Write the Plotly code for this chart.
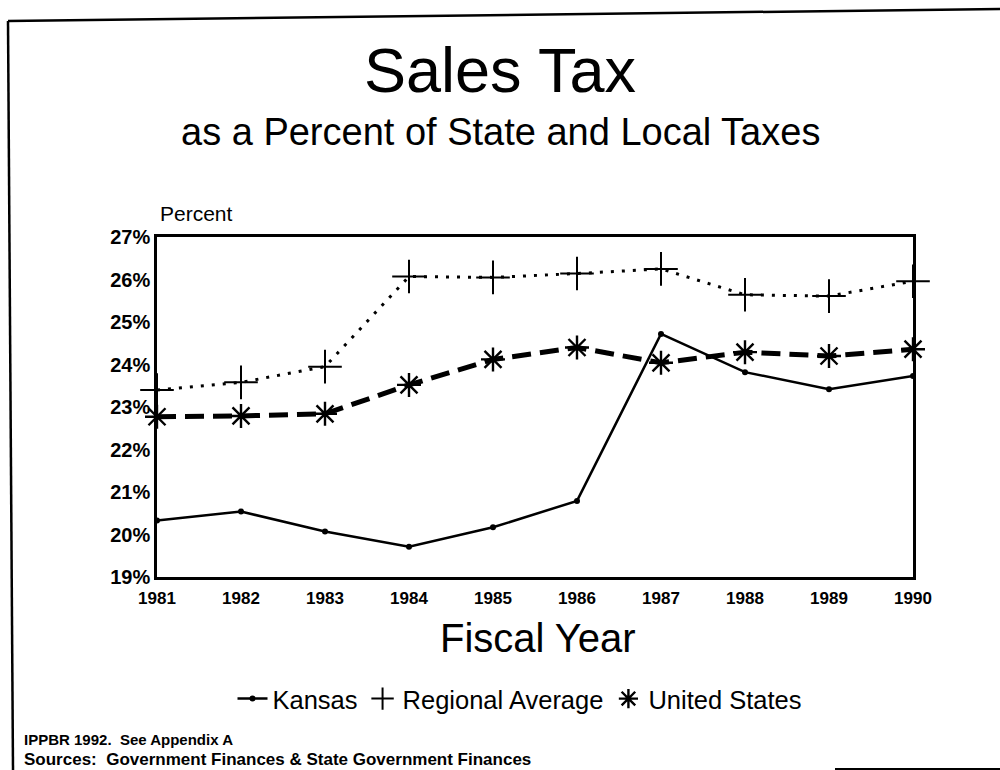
import plotly.graph_objects as go

years = [1981, 1982, 1983, 1984, 1985, 1986, 1987, 1988, 1989, 1990]
kansas = [20.33, 20.54, 20.07, 19.71, 20.17, 20.79, 24.72, 23.82, 23.42, 23.73]
regional = [23.40, 23.58, 23.95, 26.07, 26.05, 26.14, 26.25, 25.64, 25.61, 25.96]
united_states = [22.77, 22.79, 22.84, 23.52, 24.12, 24.40, 24.04, 24.29, 24.20, 24.36]

y_ticks = [19, 20, 21, 22, 23, 24, 25, 26, 27]
y_tick_labels = ["19%", "20%", "21%", "22%", "23%", "24%", "25%", "26%", "27%"]

FONT = "Liberation Sans, Arial, sans-serif"

REG_MARKER = dict(symbol="cross-thin-open", size=24, color="black",
                  line=dict(color="black", width=2))
US_MARKER = dict(symbol="asterisk-open", size=20, color="black",
                 line=dict(color="black", width=2.4))
KS_MARKER = dict(symbol="circle", size=6, color="black")

fig = go.Figure()

fig.add_trace(go.Scatter(
    x=years, y=regional, mode="lines+markers", showlegend=False, cliponaxis=False,
    line=dict(color="black", width=3, dash="3px,8px"),
    marker=REG_MARKER,
))
fig.add_trace(go.Scatter(
    x=years, y=united_states, mode="lines+markers", showlegend=False, cliponaxis=False,
    line=dict(color="black", width=5, dash="19px,9px"),
    marker=US_MARKER,
))
fig.add_trace(go.Scatter(
    x=years, y=kansas, mode="lines+markers", showlegend=False, cliponaxis=False,
    line=dict(color="black", width=2.5),
    marker=KS_MARKER,
))

# key entries: symbol only, as in the printed key
fig.add_trace(go.Scatter(
    x=[None], y=[None], mode="lines+markers", name="Kansas",
    line=dict(color="black", width=2.5), marker=KS_MARKER,
))
fig.add_trace(go.Scatter(
    x=[None], y=[None], mode="markers", name="Regional Average", marker=REG_MARKER,
))
fig.add_trace(go.Scatter(
    x=[None], y=[None], mode="markers", name="United States", marker=US_MARKER,
))

L, R, T, B = 157, 87, 237, 193
W, H = 1000, 770
plot_w = W - L - R
plot_h = H - T - B


def px_to_paper(px, py):
    return (px - L) / plot_w, (H - B - py) / plot_h


fig.update_layout(
    width=W, height=H,
    margin=dict(l=L, r=R, t=T, b=B),
    paper_bgcolor="white", plot_bgcolor="white",
    font=dict(family=FONT, color="black"),
    showlegend=True,
    legend=dict(
        orientation="h", x=px_to_paper(520, 0)[0], xanchor="center",
        y=px_to_paper(0, 699)[1], yanchor="middle",
        font=dict(size=25.5, family=FONT, color="black"),
        itemwidth=30, traceorder="normal", bgcolor="rgba(0,0,0,0)",
    ),
    xaxis=dict(
        range=[1981, 1990], tickvals=years, ticktext=[f"<b>{y}</b>" for y in years],
        showgrid=False, zeroline=False, showline=True, linecolor="black",
        linewidth=2.5, mirror=True, ticks="", ticklen=0, ticklabelstandoff=4,
        tickfont=dict(size=17, family=FONT, color="black"),
    ),
    yaxis=dict(
        range=[19, 27], tickvals=y_ticks, ticktext=[f"<b>{t}</b>" for t in y_tick_labels],
        showgrid=False, zeroline=False, showline=True, linecolor="black",
        linewidth=2.5, mirror=True, ticks="", ticklen=0,
        tickfont=dict(size=20, family=FONT, color="black"),
    ),
)

texts = [
    ("Sales Tax", 500, 70, "center", 63),
    ("as a Percent of State and Local Taxes", 500, 132, "center", 38),
    ("Percent", 158, 213, "left", 21),
    ("Fiscal Year", 538, 638, "center", 40),
    ("<b>IPPBR 1992.  See Appendix A</b>", 22, 739, "left", 15),
    ("<b>Sources:  Government Finances & State Government Finances</b>", 22, 759, "left", 17),
]
for text, px, py, xa, size in texts:
    ax, ay = px_to_paper(px, py)
    fig.add_annotation(text=text, x=ax, y=ay, xref="paper", yref="paper",
                       xanchor=xa, yanchor="middle", showarrow=False,
                       font=dict(size=size, family=FONT, color="black"))

# page frame lines
frame = [((8, 21), (1000, 9), 2.5), ((8, 21), (13, 770), 2.5), ((835, 769), (1000, 769), 2)]
for (p0, p1, w) in frame:
    x0, y0 = px_to_paper(*p0)
    x1, y1 = px_to_paper(*p1)
    fig.add_shape(type="line", xref="paper", yref="paper", x0=x0, y0=y0, x1=x1, y1=y1,
                  line=dict(color="black", width=w))

fig.write_html("out.html")
